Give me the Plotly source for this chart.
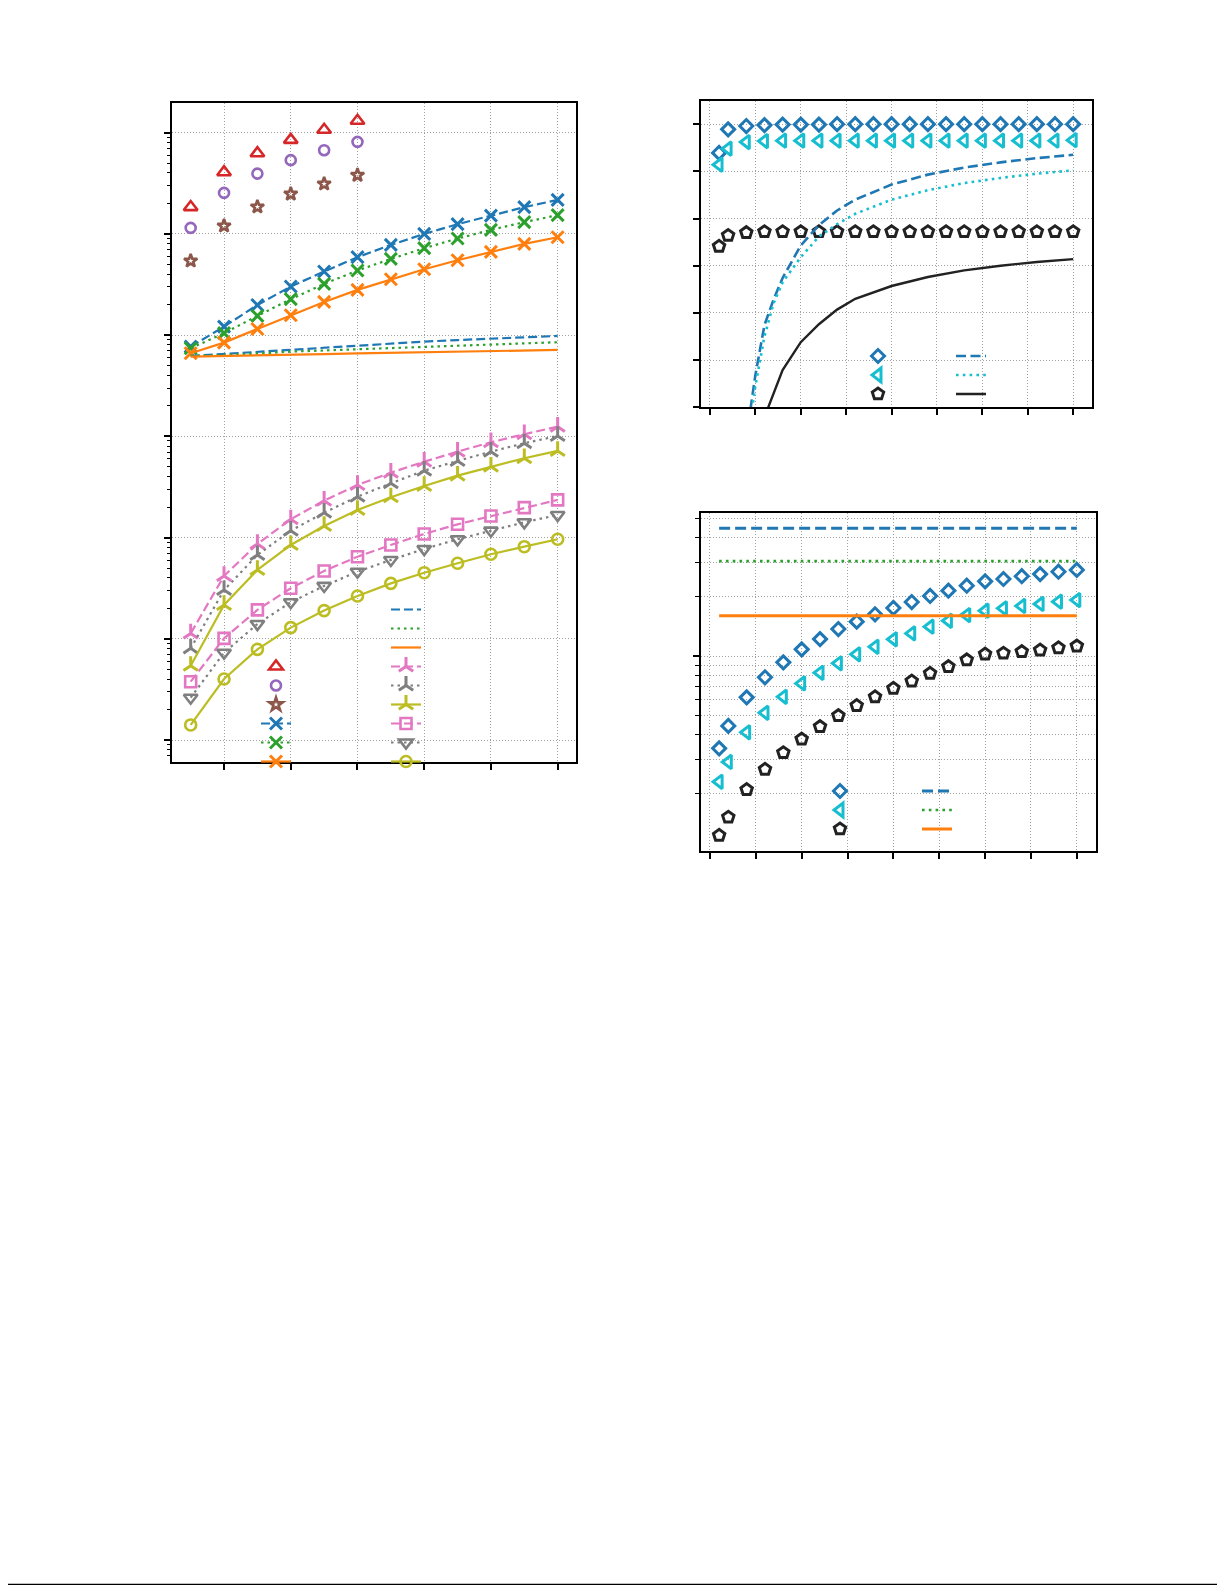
import plotly.graph_objects as go

W, H = 1225, 1585
OFF = 8  # page body margin of the browser

# ---------------- left panel data ----------------
x_left = [1, 2, 3, 4, 5, 6, 7, 8, 9, 10, 11, 12]
x_left_short = [1, 2, 3, 4, 5, 6]

red_tri = [1.84e5, 4.07e5, 6.27e5, 8.49e5, 1.067e6, 1.31e6]
purple_circ = [1.146e5, 2.54e5, 3.94e5, 5.35e5, 6.71e5, 8.11e5]
brown_star = [5.41e4, 1.20e5, 1.85e5, 2.48e5, 3.12e5, 3.80e5]

blue_x = [7690, 12130, 19860, 30200, 42460, 58880, 77800, 100000, 124700, 151700, 183700, 216800]
green_x = [7410, 10450, 15490, 22650, 32060, 43450, 56620, 72280, 89950, 109600, 130600, 153100]
orange_x = [6620, 8430, 11510, 15700, 21280, 27990, 35650, 44770, 54950, 66370, 79620, 92680]

blue_flat_l = [6223, 6531, 6839, 7145, 7482, 7816, 8222, 8630, 8933, 9247, 9528, 9817]
green_flat_l = [6223, 6397, 6561, 6871, 7050, 7230, 7470, 7691, 7900, 8100, 8330, 8511]
orange_flat_l = [6138, 6200, 6290, 6412, 6500, 6590, 6680, 6776, 6870, 6960, 7050, 7145]

pink_y = [11.3, 41.8, 86.5, 151.7, 231.7, 331.1, 437.5, 562.3, 706.3, 875.0, 1050, 1247]
gray_y = [8.05, 30.3, 67.3, 117.0, 176.2, 253.5, 343.6, 458.1, 571.5, 706.3, 855.1, 1009]
olive_y = [5.42, 21.6, 47.9, 84.5, 130.3, 187.5, 250.0, 323.6, 409.3, 502.3, 608.1, 717.8]
pink_sq = [3.77, 10.1, 19.3, 31.6, 46.8, 64.7, 84.5, 108.6, 135.2, 163.3, 197.7, 235.5]
gray_tri = [2.62, 7.29, 14.0, 23.0, 33.3, 46.0, 60.1, 77.1, 96.2, 117.0, 141.6, 167.1]
olive_circ = [1.41, 4.01, 7.87, 12.9, 19.0, 26.5, 35.3, 45.0, 55.7, 68.4, 81.3, 96.2]

left_xticks = [2, 4, 6, 8, 10, 12]
left_major = [1, 10, 100, 1e3, 1e4, 1e5, 1e6]
left_minor = [m * d for d in [0.1, 1, 10, 100, 1e3, 1e4, 1e5, 1e6] for m in range(2, 10)]

# ---------------- right panels data ----------------
x_pts = [1, 2, 4, 6, 8, 10, 12, 14, 16, 18, 20, 22, 24, 26, 28, 30, 32, 34, 36, 38, 40]

diam_top = [5.39, 5.89, 5.96, 5.98, 5.99, 5.99, 5.99, 6.0, 6.0, 6.0, 6.0, 6.0, 6.0, 6.0, 6.0, 6.0, 6.0, 6.0, 6.0, 6.0, 6.0]
tri_top = [5.14, 5.48, 5.62, 5.64, 5.65, 5.65, 5.65, 5.65, 5.65, 5.65, 5.65, 5.65, 5.65, 5.65, 5.65, 5.65, 5.65, 5.65, 5.65, 5.65, 5.66]
pent_top = [3.41, 3.64, 3.70, 3.72, 3.72, 3.72, 3.72, 3.72, 3.72, 3.72, 3.72, 3.72, 3.72, 3.72, 3.72, 3.72, 3.72, 3.72, 3.72, 3.72, 3.72]

x_curve = [4, 5, 6, 7, 8, 10, 12, 14, 16, 20, 24, 28, 32, 36, 40]
blue_curve = [-0.65, 0.68, 1.74, 2.28, 2.74, 3.43, 3.86, 4.17, 4.40, 4.72, 4.93, 5.08, 5.19, 5.28, 5.35]
cyan_curve = [-0.9, 0.45, 1.50, 2.20, 2.65, 3.18, 3.62, 3.88, 4.10, 4.40, 4.60, 4.75, 4.86, 4.95, 5.02]
black_curve = [-2.1, -0.9, -0.21, 0.30, 0.79, 1.38, 1.76, 2.07, 2.30, 2.57, 2.76, 2.90, 3.00, 3.08, 3.14]

diam_bot = [0.340, 0.442, 0.617, 0.780, 0.929, 1.081, 1.219, 1.371, 1.494, 1.629, 1.754, 1.879, 2.018, 2.147, 2.275, 2.393, 2.460, 2.541, 2.606, 2.679, 2.735]
tri_bot = [0.230, 0.290, 0.410, 0.515, 0.621, 0.726, 0.822, 0.918, 1.020, 1.114, 1.216, 1.303, 1.409, 1.510, 1.614, 1.698, 1.746, 1.795, 1.837, 1.888, 1.923]
pent_bot = [0.123, 0.152, 0.210, 0.266, 0.323, 0.379, 0.438, 0.498, 0.560, 0.621, 0.685, 0.746, 0.817, 0.883, 0.955, 1.023, 1.033, 1.052, 1.072, 1.101, 1.124]
x_flat = [1, 40]
blue_flat_r = [4.45, 4.45]
green_flat_r = [3.03, 3.03]
orange_flat_r = [1.60, 1.60]

right_xticks = [0, 5, 10, 15, 20, 25, 30, 35, 40]
top_yticks = [0, 1, 2, 3, 4, 5, 6]
bot_major = [1]
bot_minor = [0.2, 0.3, 0.4, 0.5, 0.6, 0.7, 0.8, 0.9, 2, 3, 4, 5]

# ---------------- styles ----------------
C = dict(blue='#1f77b4', green='#2ca02c', orange='#ff7f0e', red='#d62728', purple='#9467bd',
         brown='#8c564b', pink='#e377c2', gray='#7f7f7f', olive='#bcbd22', cyan='#17becf', black='#222222')
DASH_L = '9px,4px'
DOT_L = '2.5px,4px'

fig = go.Figure()


def tr(x, y, ax, legend, color, mode, symbol=None, size=10, dash='solid', lw=2.2, mlw=2.5):
    kw = dict(x=x, y=y, xaxis='x' + ax, yaxis='y' + ax, mode=mode, name='', legend=legend,
              showlegend=True, hoverinfo='skip')
    if 'lines' in mode:
        kw['line'] = dict(color=color, width=lw, dash=dash)
    if 'markers' in mode:
        kw['marker'] = dict(symbol=symbol, size=size, color=color,
                            line=dict(color=color, width=mlw))
    fig.add_trace(go.Scatter(**kw))


# left panel, legend column 1
tr(x_left_short, red_tri, '', 'legend', C['red'], 'markers', 'triangle-up-open', 12, mlw=2.6)
tr(x_left_short, purple_circ, '', 'legend', C['purple'], 'markers', 'circle-open', 10, mlw=2.6)
tr(x_left_short, brown_star, '', 'legend', C['brown'], 'markers', 'star-open', 10, mlw=2.6)
tr(x_left, blue_x, '', 'legend', C['blue'], 'lines+markers', 'x-thin', 12, DASH_L, 2.2, 3)
tr(x_left, green_x, '', 'legend', C['green'], 'lines+markers', 'x-thin', 12, DOT_L, 2.2, 3)
tr(x_left, orange_x, '', 'legend', C['orange'], 'lines+markers', 'x-thin', 12, 'solid', 2.2, 3)
# left panel, legend column 2
tr(x_left, blue_flat_l, '', 'legend2', C['blue'], 'lines', dash=DASH_L, lw=2.2)
tr(x_left, green_flat_l, '', 'legend2', C['green'], 'lines', dash=DOT_L, lw=2.2)
tr(x_left, orange_flat_l, '', 'legend2', C['orange'], 'lines', dash='solid', lw=2.2)
tr(x_left, pink_y, '', 'legend2', C['pink'], 'lines+markers', 'y-up', 12, DASH_L, 2.2, 3)
tr(x_left, gray_y, '', 'legend2', C['gray'], 'lines+markers', 'y-up', 12, DOT_L, 2.2, 3)
tr(x_left, olive_y, '', 'legend2', C['olive'], 'lines+markers', 'y-up', 12, 'solid', 2.2, 3)
tr(x_left, pink_sq, '', 'legend2', C['pink'], 'lines+markers', 'square-open', 11, DASH_L, 2.2, 2.6)
tr(x_left, gray_tri, '', 'legend2', C['gray'], 'lines+markers', 'triangle-down-open', 12, DOT_L, 2.2, 2.6)
tr(x_left, olive_circ, '', 'legend2', C['olive'], 'lines+markers', 'circle-open', 11, 'solid', 2.2, 2.6)

# top-right panel
tr(x_pts, diam_top, '2', 'legend3', C['blue'], 'markers', 'diamond-open', 10, mlw=3)
tr(x_pts, tri_top, '2', 'legend3', C['cyan'], 'markers', 'triangle-left-open', 12, mlw=3)
tr(x_pts, pent_top, '2', 'legend3', C['black'], 'markers', 'pentagon-open', 12, mlw=3)
tr(x_curve, blue_curve, '2', 'legend4', C['blue'], 'lines', dash='10px,4.5px', lw=2.6)
tr(x_curve, cyan_curve, '2', 'legend4', C['cyan'], 'lines', dash='2.6px,4.2px', lw=2.6)
tr(x_curve, black_curve, '2', 'legend4', C['black'], 'lines', dash='solid', lw=2.4)

# bottom-right panel
tr(x_pts, diam_bot, '3', 'legend5', C['blue'], 'markers', 'diamond-open', 10, mlw=3)
tr(x_pts, tri_bot, '3', 'legend5', C['cyan'], 'markers', 'triangle-left-open', 12, mlw=3)
tr(x_pts, pent_bot, '3', 'legend5', C['black'], 'markers', 'pentagon-open', 12, mlw=3)
tr(x_flat, blue_flat_r, '3', 'legend6', C['blue'], 'lines', dash='11px,5px', lw=3)
tr(x_flat, green_flat_r, '3', 'legend6', C['green'], 'lines', dash='2.6px,4.2px', lw=2.6)
tr(x_flat, orange_flat_r, '3', 'legend6', C['orange'], 'lines', dash='solid', lw=3)

# ---------------- layout ----------------
GRID = dict(showgrid=True, gridcolor='#a0a0a0', gridwidth=1, griddash='1px,2px')
AX = dict(showline=True, linecolor='black', linewidth=2, mirror=True, ticks='outside',
          tickcolor='black', tickwidth=1.5, ticklen=6, showticklabels=False, zeroline=False)


def dx(a, b):
    return [(a - OFF) / W, (b - OFF) / W]


def dy(top, bottom):
    return [1 - (bottom - OFF) / H, 1 - (top - OFF) / H]


def lg(left_px, top_px):
    return dict(x=(left_px - OFF) / W, y=1 - (top_px - OFF) / H, xanchor='left', yanchor='top',
                bgcolor='rgba(0,0,0,0)', borderwidth=0, font=dict(size=10),
                traceorder='normal', itemsizing='trace')


LINE_Y = 1 - (1584.5 - OFF) / H

fig.update_layout(
    width=W, height=H, margin=dict(l=0, r=0, t=0, b=0),
    paper_bgcolor='white', plot_bgcolor='white',
    font=dict(family='DejaVu Sans'),
    xaxis=dict(domain=dx(172, 576), range=[0.44, 12.55], tickmode='array', tickvals=left_xticks,
               anchor='y', **AX, **GRID),
    yaxis=dict(domain=dy(103, 762), type='log', range=[-0.217, 6.293], tickmode='array',
               tickvals=left_major, anchor='x',
               minor=dict(tickmode='array', tickvals=left_minor, ticks='outside', ticklen=3.5,
                          tickcolor='black', tickwidth=1, showgrid=False),
               **AX, **GRID),
    xaxis2=dict(domain=dx(700.7, 1091.7), range=[-1.02, 42.04], tickmode='array',
                tickvals=right_xticks, anchor='y2', **AX, **GRID),
    yaxis2=dict(domain=dy(101, 407.3), range=[0, 6.49], tickmode='array', tickvals=top_yticks,
                anchor='x2', **AX, **GRID),
    xaxis3=dict(domain=dx(700.7, 1095.7), range=[-1.01, 42.06], tickmode='array',
                tickvals=right_xticks, anchor='y3', **AX, **GRID),
    yaxis3=dict(domain=dy(513.3, 850.7), type='log', range=[-0.988, 0.7244], tickmode='array',
                tickvals=bot_major, anchor='x3',
                minor=dict(tickmode='array', tickvals=bot_minor, ticks='outside', ticklen=3.5,
                           tickcolor='black', tickwidth=1.2, showgrid=True, gridcolor='#a0a0a0',
                           gridwidth=1, griddash='1px,2px'),
                **AX, **GRID),
    legend=lg(256, 652),
    legend2=lg(386, 595),
    legend3=lg(858, 341.5),
    legend4=lg(951, 341.5),
    legend5=lg(820, 776.5),
    legend6=lg(917, 776.5),
    shapes=[dict(type='line', xref='paper', yref='paper', x0=0, x1=1,
                 y0=LINE_Y, y1=LINE_Y, line=dict(color='black', width=1.6))],
)

fig.write_html('out.html')
